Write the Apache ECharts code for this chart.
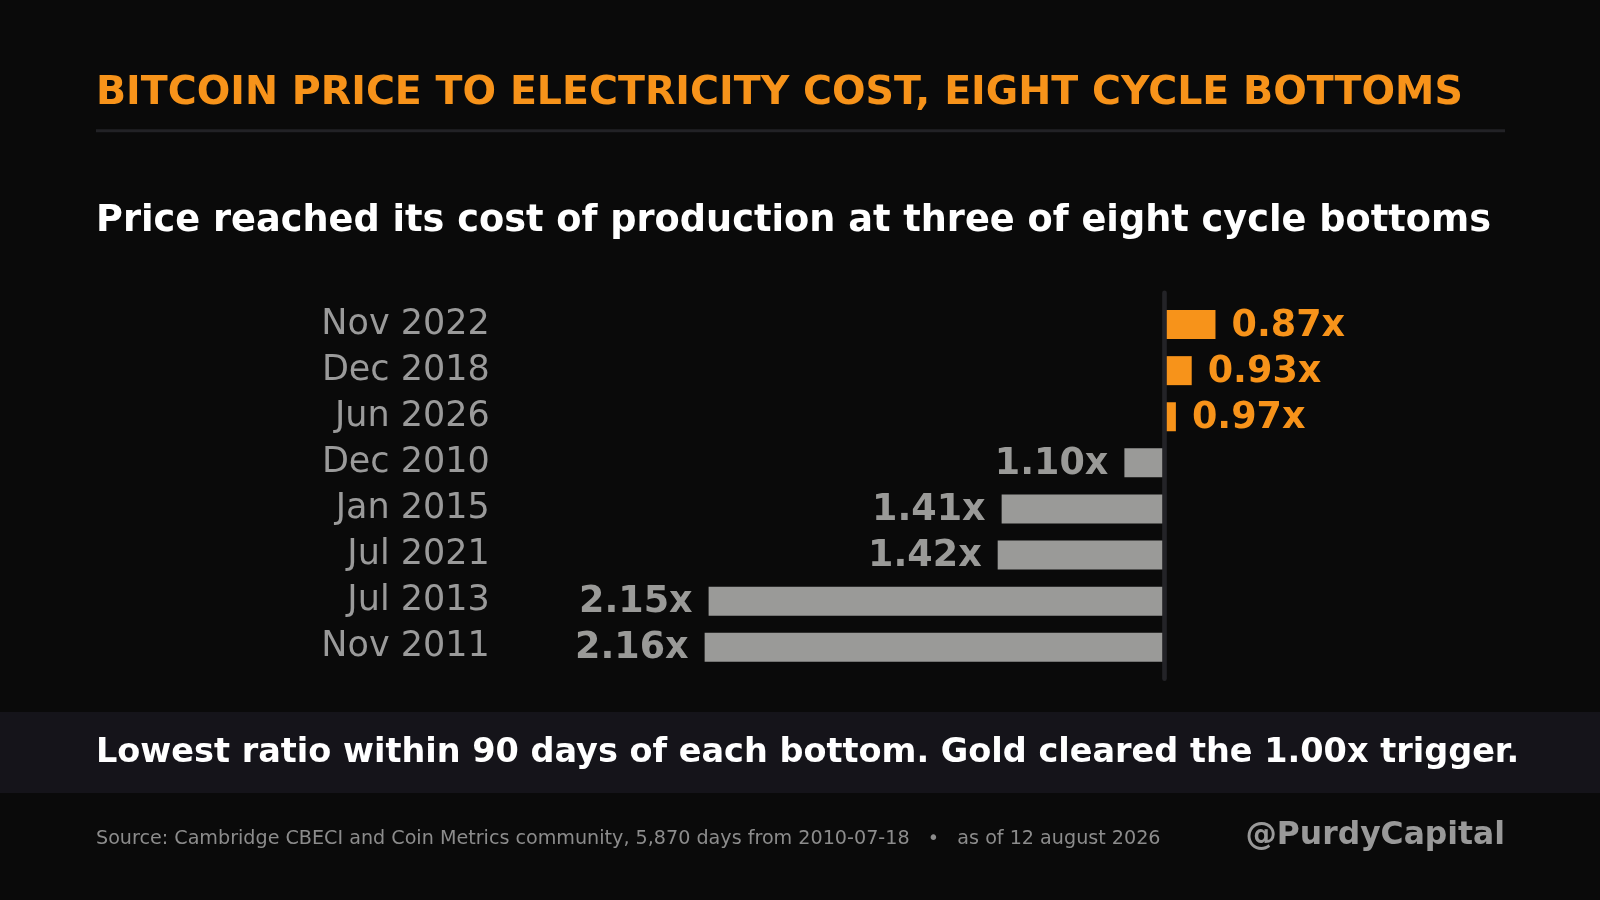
<!DOCTYPE html>
<html>
<head>
<meta charset="utf-8">
<script src="https://cdn.jsdelivr.net/npm/echarts@6/dist/echarts.min.js"></script>
<style>
html,body{margin:0;padding:0;background:#0a0a0a;}
#chart{width:1600px;height:900px;}
</style>
</head>
<body>
<div id="chart"></div>
<script>
const categories = ['Nov 2022','Dec 2018','Jun 2026','Dec 2010','Jan 2015','Jul 2021','Jul 2013','Nov 2011'];
const ratios = [0.87, 0.93, 0.97, 1.10, 1.41, 1.42, 2.15, 2.16];
const trigger = 1.00;

const ORANGE = '#F7931A';
const GRAY = '#9a9a98';
const FONT = 'DejaVu Sans';

const barData = ratios.map(function (r) {
  const below = r < trigger;
  return {
    value: trigger - r,
    itemStyle: { color: below ? ORANGE : GRAY },
    label: {
      position: below ? 'right' : 'left',
      color: below ? ORANGE : GRAY
    }
  };
});

const chart = echarts.init(document.getElementById('chart'));
chart.setOption({
  backgroundColor: '#0a0a0a',
  animation: false,
  grid: [
    { left: 688.8, width: 712.8, top: 301.5, height: 368.8 },
    { left: 688.8, width: 712.8, top: 292.7, height: 386 }
  ],
  xAxis: [
    { gridIndex: 0, type: 'value', min: -1.2, max: 0.6, show: false },
    { gridIndex: 1, type: 'value', min: -1.2, max: 0.6, show: false }
  ],
  yAxis: [
    {
      gridIndex: 0, type: 'category', data: categories, inverse: true,
      position: 'left',
      axisLine: { show: false, onZero: false },
      axisTick: { show: false },
      splitLine: { show: false },
      axisLabel: { margin: 199, color: '#9a9a9a', fontFamily: FONT, fontSize: 35, padding: [3, 0, 0, 0] }
    },
    {
      gridIndex: 1, type: 'category', data: [''], z: 10,
      axisLine: { show: true, onZero: true, lineStyle: { color: '#232327', width: 4.6 } },
      axisTick: { show: false },
      axisLabel: { show: false },
      splitLine: { show: false }
    }
  ],
  series: [{
    type: 'bar',
    xAxisIndex: 0,
    yAxisIndex: 0,
    data: barData,
    barWidth: 29,
    z: 2,
    label: {
      show: true,
      distance: 16,
      offset: [0, 1.5],
      fontFamily: FONT,
      fontWeight: 'bold',
      fontSize: 36.5,
      formatter: function (p) { return ratios[p.dataIndex].toFixed(2) + 'x'; }
    }
  }],
  graphic: [
    { type: 'rect', shape: { x: 0, y: 712, width: 1600, height: 81 }, style: { fill: '#15141a' }, z: -1 },
    { type: 'rect', shape: { x: 96, y: 129.2, width: 1409, height: 3 }, style: { fill: '#222226' } },
    { type: 'text', x: 96, y: 94, style: { text: 'BITCOIN PRICE TO ELECTRICITY COST, EIGHT CYCLE BOTTOMS', font: 'bold 39.5px "DejaVu Sans"', fill: ORANGE, textVerticalAlign: 'middle' } },
    { type: 'text', x: 96, y: 221.5, style: { text: 'Price reached its cost of production at three of eight cycle bottoms', font: 'bold 36.7px "DejaVu Sans"', fill: '#ffffff', textVerticalAlign: 'middle' } },
    { type: 'text', x: 96, y: 753.5, style: { text: 'Lowest ratio within 90 days of each bottom. Gold cleared the 1.00x trigger.', font: 'bold 33.5px "DejaVu Sans"', fill: '#ffffff', textVerticalAlign: 'middle' } },
    { type: 'text', x: 96, y: 839, style: { text: 'Source: Cambridge CBECI and Coin Metrics community, 5,870 days from 2010-07-18   \u2022   as of 12 august 2026', font: '19.15px "DejaVu Sans"', fill: '#8c8c8c', textVerticalAlign: 'middle' } },
    { type: 'text', x: 1505, y: 836, style: { text: '@PurdyCapital', font: 'bold 31.4px "DejaVu Sans"', fill: '#999999', textAlign: 'right', textVerticalAlign: 'middle' } }
  ]
});
</script>
</body>
</html>
